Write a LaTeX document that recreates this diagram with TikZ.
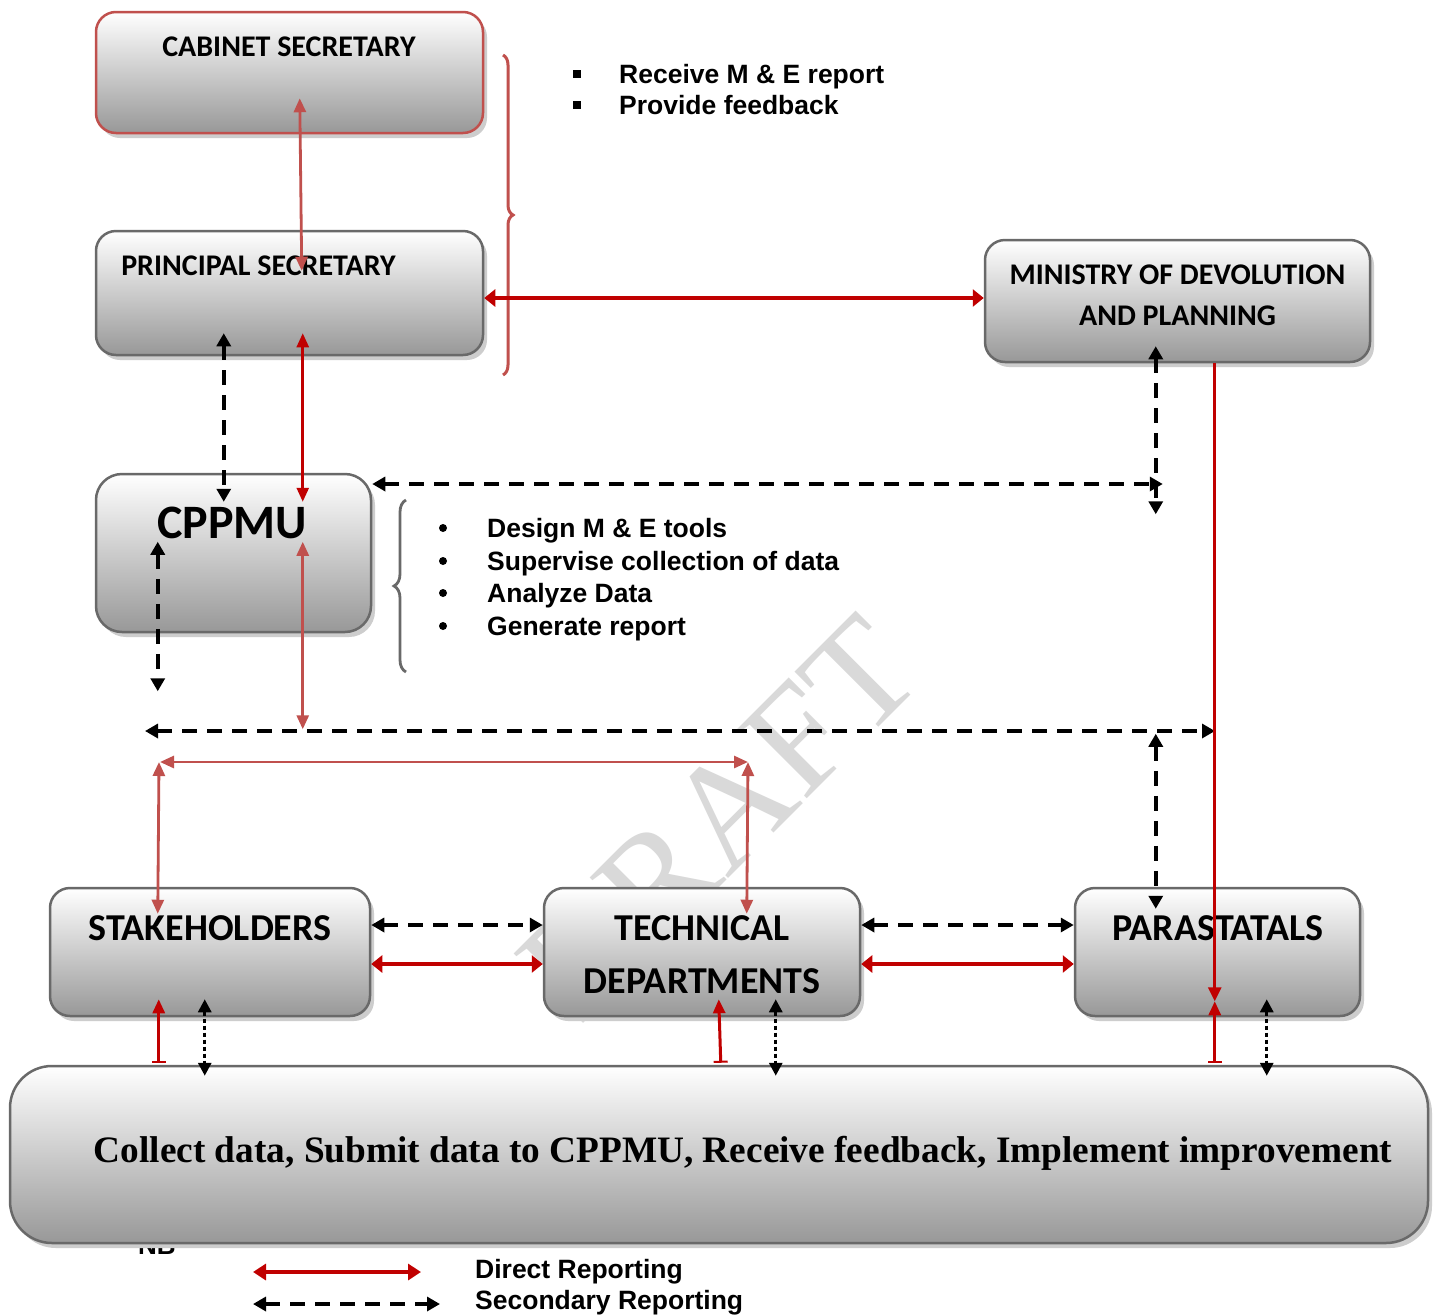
\documentclass[tikz,border=0pt]{standalone}
\usepackage{fontspec}
\setmainfont{Liberation Sans}
\newfontfamily\boxfont{Carlito}
\newfontfamily\serfont{Liberation Serif}
\usetikzlibrary{arrows.meta,shadows,decorations.pathreplacing,calc}
\definecolor{dred}{RGB}{192,0,0}
\definecolor{lred}{RGB}{192,80,77}
\definecolor{bord}{RGB}{105,105,105}
\definecolor{botgray}{RGB}{152,152,152}
\definecolor{shad}{RGB}{205,205,205}
\begin{document}
\begin{tikzpicture}[x=1pt,y=-1pt,
  box/.style={draw=bord, line width=2.5pt, rounded corners=20pt, top color=white, bottom color=botgray,
    drop shadow={shadow xshift=4pt, shadow yshift=-5pt, fill=shad, opacity=1}, inner sep=0pt},
  boxlabel/.style={font=\boxfont\bfseries\fontsize{30}{30}\selectfont, anchor=base, inner sep=0pt},
  biglabel/.style={font=\boxfont\bfseries\fontsize{38}{38}\selectfont, anchor=base, inner sep=0pt},
  listtext/.style={font=\bfseries\fontsize{26.5}{26.5}\selectfont, anchor=base west, inner sep=0pt},
  dredthick/.style={draw=dred, line width=4pt, {Triangle[length=11pt,width=17pt]}-{Triangle[length=11pt,width=17pt]}},
  dredthin/.style={draw=dred, line width=2.6pt},
  lredline/.style={draw=lred, line width=2.8pt, {Triangle[length=14pt,width=12pt]}-{Triangle[length=14pt,width=12pt]}},
  sec/.style={draw=black, line width=3.5pt, dash pattern=on 15pt off 10pt, {Triangle[length=13pt,width=14pt]}-{Triangle[length=13pt,width=14pt]}},
  dotline/.style={draw=black, line width=3pt, dash pattern=on 4pt off 3pt, {Triangle[length=13pt,width=13pt]}-{Triangle[length=13pt,width=13pt]}},
  upred/.style={draw=dred, line width=3pt, {Bar[width=14pt,line width=2pt]}-{Triangle[length=14pt,width=12pt]}}
]
\useasboundingbox (0,0) rectangle (1435,1315);
\fill[white] (0,0) rectangle (1435,1315);

% watermark
\node[rotate=45, text=black!15, font=\serfont\fontsize{150}{150}\selectfont, inner sep=0pt] (wm) at (719,818) {DRAFT};

% NB partly hidden
\node[font=\bfseries\fontsize{26}{26}\selectfont, anchor=base west, inner sep=0pt] (nb) at (138,1254) {NB};

% boxes
\node[box, draw=lred, minimum width=387pt, minimum height=121pt] (cs) at (289.5,72.5) {};
\node[box, minimum width=387pt, minimum height=124pt] (ps) at (289.5,293) {};
\node[box, minimum width=385pt, minimum height=122pt] (mn) at (1177.5,301) {};
\node[box, rounded corners=26pt, minimum width=275pt, minimum height=158pt] (cp) at (233.5,553) {};
\node[box, minimum width=320pt, minimum height=128pt] (sh) at (210,952) {};
\node[box, minimum width=316pt, minimum height=128pt] (td) at (702,952) {};
\node[box, minimum width=285pt, minimum height=128pt] (pa) at (1217.5,952) {};
\node[box, rounded corners=42pt, minimum width=1418pt, minimum height=177pt] (bt) at (719,1154.5) {};

% box texts
\node[boxlabel] (cst) at (289,56) {CABINET SECRETARY};
\node[boxlabel] (pst) at (258.5,275) {PRINCIPAL SECRETARY};
\node[boxlabel] (mnt1) at (1177.5,284) {MINISTRY OF DEVOLUTION};
\node[boxlabel] (mnt2) at (1177.5,325) {AND PLANNING};
\node[font=\boxfont\bfseries\fontsize{48}{48}\selectfont, anchor=base, inner sep=0pt] (cpt) at (232,538) {CPPMU};
\node[biglabel] (sht) at (210,940) {STAKEHOLDERS};
\node[biglabel] (tdt1) at (702,940) {TECHNICAL};
\node[biglabel] (tdt2) at (702,993) {DEPARTMENTS};
\node[biglabel] (pat) at (1218,940) {PARASTATALS};
\node[font=\serfont\bfseries\fontsize{37.3}{37.3}\selectfont, anchor=base, inner sep=0pt] (btt) at (743,1162) {Collect data, Submit data to CPPMU, Receive feedback, Implement improvement};

% lists
\fill (573,70) rectangle (581,78);
\fill (573,101) rectangle (581,109);
\node[listtext] (r1) at (619,83) {Receive M \& E report};
\node[listtext] (r2) at (619,114) {Provide feedback};
\foreach \yy in {528,561,593,626} \fill (443,\yy) circle (4pt);
\node[listtext] (c1) at (487,537) {Design M \& E tools};
\node[listtext] (c2) at (487,570) {Supervise collection of data};
\node[listtext] (c3) at (487,602) {Analyze Data};
\node[listtext] (c4) at (487,635) {Generate report};

% braces
\draw[lred, line width=3pt, decorate, decoration={brace, amplitude=10pt}] (503,55) -- (503,375);
\draw[bord, line width=2.8pt, decorate, decoration={brace, amplitude=12pt}] (406,672) -- (406,500);

% connectors
\draw[lredline] ($(cs.south west)+(205,-36)$) -- ($(ps.north west)+(207,41)$);
\draw[dredthick] ($(ps.east)+(0,5)$) -- ($(mn.west)+(0,-3)$);
\draw[sec] ($(ps.south west)+(129,-23)$) -- ($(cp.north west)+(129,29)$);
\draw[dredthin, {Triangle[length=14pt,width=12pt]}-{Triangle[length=14pt,width=12pt]}] ($(ps.south west)+(208,-23)$) -- ($(cp.north west)+(208,29)$);
\draw[sec] ($(cp.east)+(0,-69)$) -- ($(mn.west)+(179,183)$);
\draw[sec] ($(mn.south west)+(172,-17)$) -- ($(mn.south west)+(172,151)$);
\draw[sec] ($(cp.north west)+(63,69)$) -- ($(cp.south west)+(63,58)$);
\draw[lredline] ($(cp.north west)+(208,69)$) -- ($(cp.south west)+(208,96)$);
\coordinate (hl) at (145,731);
\coordinate (hr) at (1215,731);
\draw[sec] (hl) -- (hr);
\draw[sec] ($(pa.north west)+(82,-153)$) -- ($(pa.north west)+(82,22)$);
\draw[dredthin, -{Triangle[length=14pt,width=13pt]}] ($(mn.south west)+(231,0)$) -- ($(pa.south west)+(141,-16)$);
\coordinate (k1) at (159,762);
\coordinate (k2) at (748,762);
\draw[lredline] ($(k1)+(1,0)$) -- (k2);
\draw[lredline] (k1) -- ($(sh.north west)+(109,27)$);
\draw[lredline] (k2) -- ($(td.north west)+(204,27)$);
\draw[sec] ($(sh.east)+(0,-27)$) -- ($(td.west)+(0,-27)$);
\draw[dredthick] ($(sh.east)+(0,12)$) -- ($(td.west)+(0,12)$);
\draw[sec] ($(td.east)+(0,-27)$) -- ($(pa.west)+(0,-27)$);
\draw[dredthick] ($(td.east)+(0,12)$) -- ($(pa.west)+(0,12)$);
% to bottom box
\draw[upred] ($(bt.north west)+(150,-2)$) -- ($(sh.south west)+(110,-18)$);
\draw[dotline] ($(sh.south west)+(156,-18)$) -- ($(bt.north west)+(196,11)$);
\draw[upred] ($(bt.north west)+(712,-2)$) -- ($(td.south west)+(176,-18)$);
\draw[dotline] ($(td.south west)+(233,-18)$) -- ($(bt.north west)+(767,11)$);
\draw[upred] ($(bt.north west)+(1206,-2)$) -- ($(pa.south west)+(141,-16)$);
\draw[dotline] ($(pa.south west)+(193,-18)$) -- ($(bt.north west)+(1258,11)$);

% legend
\coordinate (la1) at (253,1272);
\coordinate (la2) at (421,1272);
\coordinate (lb1) at (253,1304);
\coordinate (lb2) at (440,1304);
\draw[dredthick, {Triangle[length=13pt,width=16pt]}-{Triangle[length=13pt,width=16pt]}] (la1) -- (la2);
\draw[sec] (lb1) -- (lb2);
\node[listtext] (lg1) at (475,1278) {Direct Reporting};
\node[listtext] (lg2) at (475,1309) {Secondary Reporting};
\end{tikzpicture}
\end{document}
